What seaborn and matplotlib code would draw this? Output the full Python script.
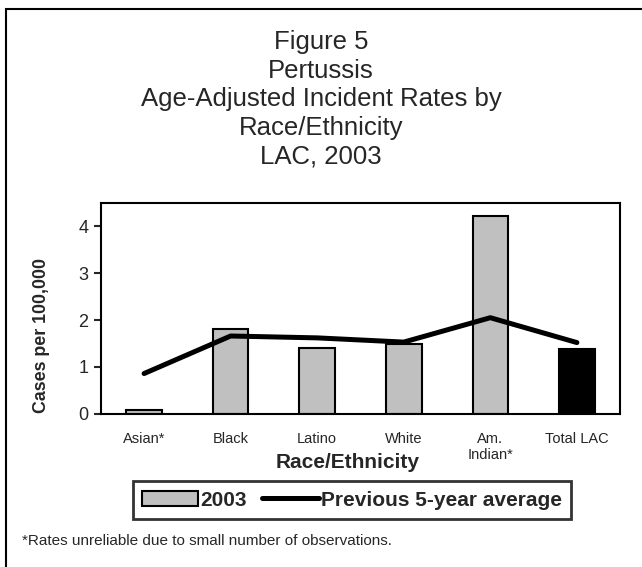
import numpy as np
import pandas as pd
import matplotlib
matplotlib.use("Agg")
import matplotlib.pyplot as plt
import matplotlib.patches as mpatches
from matplotlib.lines import Line2D
import seaborn as sns

# data
races = ["Asian*", "Black", "Latino", "White", "Am.\nIndian*", "Total LAC"]
rate_2003 = [0.08, 1.80, 1.41, 1.50, 4.21, 1.38]
prev_5yr_avg = [0.86, 1.66, 1.62, 1.53, 2.05, 1.52]
bar_colors = ["#C0C0C0", "#C0C0C0", "#C0C0C0", "#C0C0C0", "#C0C0C0", "#000000"]
y_ticks = [0, 1, 2, 3, 4]

sns.set_style("white")
plt.rcParams['font.family'] = ['Liberation Sans', 'DejaVu Sans']

df = pd.DataFrame({"race": races, "rate": rate_2003, "avg": prev_5yr_avg})

fig = plt.figure(figsize=(6.42, 5.67), dpi=100)
ax = fig.add_axes([0.157, 0.270, 0.809, 0.3725])

sns.barplot(data=df, x="race", y="rate", hue="race", palette=bar_colors,
            width=0.41, edgecolor="black", linewidth=1.5, legend=False,
            saturation=1, ax=ax)
sns.lineplot(x=np.arange(len(races)), y=df["avg"], color="black",
             linewidth=3.6, solid_capstyle="round", ax=ax)

ax.set_xlim(-0.5, 5.5)
ax.set_ylim(0, 4.5)
ax.set_yticks(y_ticks)
ax.tick_params(axis="y", length=5, width=1.5, labelsize=13, pad=4, left=True)
ax.tick_params(axis="x", length=0, labelsize=10.5, pad=13)
for s in ax.spines.values():
    s.set_visible(True)
    s.set_linewidth(1.5)
    s.set_color("black")

ax.set_xlabel("Race/Ethnicity", fontsize=15, fontweight="bold")
ax.xaxis.set_label_coords(0.475, -0.185)
ax.set_ylabel("Cases per 100,000", fontsize=12.8, fontweight="bold")
ax.yaxis.set_label_coords(-0.097, 0.37)

fig.text(0.5, 0.947, "Figure 5\nPertussis\nAge-Adjusted Incident Rates by\nRace/Ethnicity\nLAC, 2003",
         ha="center", va="top", fontsize=18.5, linespacing=1.24)

handles = [mpatches.Patch(facecolor="#C0C0C0", edgecolor="black", linewidth=1.5, label="2003"),
           Line2D([0], [0], color="black", linewidth=3.6, label="Previous 5-year average")]
leg = fig.legend(handles=handles, loc="center", bbox_to_anchor=(0.548, 0.118), ncol=2,
                 frameon=True, fancybox=False, prop={"weight": "bold", "size": 15},
                 handlelength=2.7, handletextpad=0.1, columnspacing=0.75,
                 borderpad=0.45, edgecolor="black")
leg.get_frame().set_linewidth(2)

fig.text(0.034, 0.046, "*Rates unreliable due to small number of observations.",
         fontsize=11, ha="left", va="center")

# outer border of the original frame
fig.patches.append(mpatches.Rectangle((6 / 642, -0.1), 1.2, 1 - 9 / 567 + 0.1,
                                      transform=fig.transFigure, fill=False,
                                      edgecolor="black", linewidth=1.5))

fig.savefig("out.png", dpi=100)
